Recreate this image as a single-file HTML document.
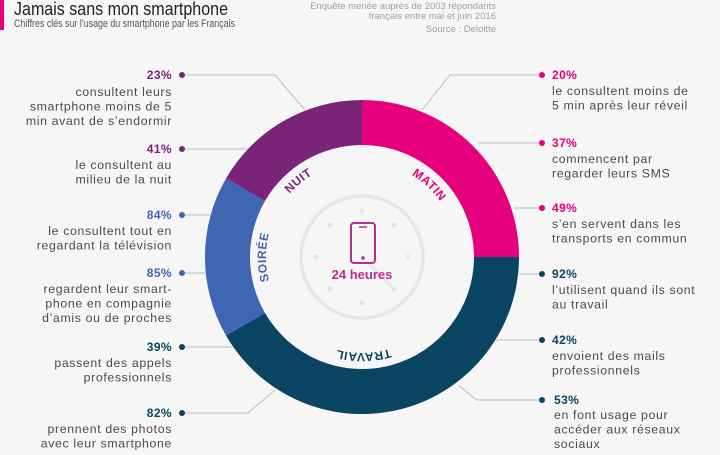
<!DOCTYPE html>
<html><head><meta charset="utf-8"><style>
html,body{margin:0;padding:0;background:#f6f6f6;}
svg{display:block;font-family:"Liberation Sans",sans-serif;}
.t{font-size:12.3px;fill:#4a4a4a;letter-spacing:0.65px;}
.p{font-size:12px;font-weight:bold;letter-spacing:0.4px;}
.ln{stroke:#b7c0ca;stroke-width:1;fill:none;}
</style></head><body>
<svg width="720" height="455" viewBox="0 0 720 455">
<rect width="720" height="455" fill="#f6f6f6"/>
<rect x="0" y="0" width="4" height="30" fill="#e6007e"/>
<text x="14" y="15" font-size="18" fill="#222" textLength="214" lengthAdjust="spacingAndGlyphs">Jamais sans mon smartphone</text>
<text x="14" y="27" font-size="11" fill="#555" textLength="221" lengthAdjust="spacingAndGlyphs">Chiffres clés sur l’usage du smartphone par les Français</text>
<g font-size="9.5" fill="#a0a0a0" text-anchor="end">
<text x="496" y="9">Enquête menée auprès de 2003 répondants</text>
<text x="496" y="19">français entre mai et juin 2016</text>
<text x="496" y="32">Source : Deloitte</text>
</g>
<g class="ln">
<polyline points="182,75 275,75 305,110"/>
<polyline points="182,149 255,149"/>
<polyline points="182,215 212,215"/>
<polyline points="182,273 206,273"/>
<polyline points="182,347 232,347"/>
<polyline points="182,413 248,413 275,390"/>
<polyline points="542,75 450,75 422,110"/>
<polyline points="542,143 478,143"/>
<polyline points="542,208 514,208"/>
<polyline points="542,274 519,274"/>
<polyline points="542,340 496,340"/>
<polyline points="542,400 477,400 458,385"/>
</g>
<g transform="translate(362,257)">
<path d="M0,-157 A157,157 0 0,1 157,0 L112,0 A112,112 0 0,0 0,-112Z" fill="#e6007e"/>
<path d="M157,0 A157,157 0 0,1 -136,78.5 L-97,56 A112,112 0 0,0 112,0Z" fill="#0a4463"/>
<path d="M-136,78.5 A157,157 0 0,1 -136,-78.5 L-97,-56 A112,112 0 0,0 -97,56Z" fill="#3f66b2"/>
<path d="M-136,-78.5 A157,157 0 0,1 0,-157 L0,-112 A112,112 0 0,0 -97,-56Z" fill="#792478"/>
<circle r="111" fill="#f6f6f6"/>
<circle r="61" fill="none" stroke="#e3e6ec" stroke-width="3.5"/>
<g fill="#e3e6ec">
<circle cx="0" cy="-46" r="2.6"/><circle cx="0" cy="46" r="2.6"/>
<circle cx="-46" cy="0" r="2.6"/><circle cx="46" cy="0" r="2.6"/>
<circle cx="32" cy="-32" r="2.6"/><circle cx="-32" cy="-32" r="2.6"/>
<circle cx="32" cy="32" r="2.6"/><circle cx="-32" cy="32" r="2.6"/>
</g>
<line x1="0" y1="0" x2="32" y2="32" stroke="#e3e6ec" stroke-width="3"/>
<line x1="0" y1="-30" x2="0" y2="0" stroke="#e3e6ec" stroke-width="3"/>
<rect x="-11" y="-34" width="24" height="40" rx="3" fill="#f6f6f6" stroke="#b43090" stroke-width="2"/>
<line x1="-3" y1="-30" x2="5" y2="-30" stroke="#b43090" stroke-width="1.5"/>
<circle cx="1" cy="1" r="1.8" fill="#b43090"/>
<text x="0" y="22" text-anchor="middle" font-size="13" font-weight="bold" fill="#c02a8a">24 heures</text>
</g>
<defs><path id="arc" d="M362,161 A96,96 0 1,1 361.99,161"/></defs>
<g font-size="12" font-weight="bold" letter-spacing="0.5">
<text fill="#e6007e" text-anchor="middle"><textPath href="#arc" startOffset="72">MATIN</textPath></text>
<text fill="#792478" text-anchor="middle"><textPath href="#arc" startOffset="536">NUIT</textPath></text>
<text fill="#3f66b2" text-anchor="middle"><textPath href="#arc" startOffset="452">SOIRÉE</textPath></text>
<text fill="#0a4463" text-anchor="middle"><textPath href="#arc" startOffset="300">TRAVAIL</textPath></text>
</g>
<g fill="#792478"><circle cx="182" cy="75" r="3"/><circle cx="182" cy="149" r="3"/></g>
<g fill="#3f66b2"><circle cx="182" cy="215" r="3"/><circle cx="182" cy="273" r="3"/></g>
<g fill="#0a4463"><circle cx="182" cy="347" r="3"/><circle cx="182" cy="413" r="3"/></g>
<g text-anchor="end">
<text x="172" y="79" class="p" fill="#792478">23%</text>
<text x="172" y="96" class="t">consultent leurs</text>
<text x="172" y="110.5" class="t">smartphone moins de 5</text>
<text x="172" y="125" class="t">min avant de s’endormir</text>
<text x="172" y="153" class="p" fill="#792478">41%</text>
<text x="172" y="169" class="t">le consultent au</text>
<text x="172" y="183.5" class="t">milieu de la nuit</text>
<text x="172" y="219" class="p" fill="#3f66b2">84%</text>
<text x="172" y="235" class="t">le consultent tout en</text>
<text x="172" y="249.5" class="t">regardant la télévision</text>
<text x="172" y="277" class="p" fill="#3f66b2">85%</text>
<text x="172" y="293" class="t">regardent leur smart-</text>
<text x="172" y="307.5" class="t">phone en compagnie</text>
<text x="172" y="322" class="t">d’amis ou de proches</text>
<text x="172" y="351" class="p" fill="#0a4463">39%</text>
<text x="172" y="367" class="t">passent des appels</text>
<text x="172" y="381.5" class="t">professionnels</text>
<text x="172" y="417" class="p" fill="#0a4463">82%</text>
<text x="172" y="433" class="t">prennent des photos</text>
<text x="172" y="447.5" class="t">avec leur smartphone</text>
</g>
<g fill="#e6007e"><circle cx="542" cy="75" r="3"/><circle cx="542" cy="143" r="3"/><circle cx="542" cy="208" r="3"/></g>
<g fill="#0a4463"><circle cx="542" cy="274" r="3"/><circle cx="542" cy="340" r="3"/><circle cx="542" cy="400" r="3"/></g>
<g>
<text x="552" y="79" class="p" fill="#e6007e">20%</text>
<text x="552" y="95" class="t">le consultent moins de</text>
<text x="552" y="109.5" class="t">5 min après leur réveil</text>
<text x="552" y="147" class="p" fill="#e6007e">37%</text>
<text x="552" y="163" class="t">commencent par</text>
<text x="552" y="177.5" class="t">regarder leurs SMS</text>
<text x="552" y="212" class="p" fill="#e6007e">49%</text>
<text x="552" y="228" class="t">s’en servent dans les</text>
<text x="552" y="242.5" class="t">transports en commun</text>
<text x="552" y="278" class="p" fill="#0a4463">92%</text>
<text x="552" y="294" class="t">l’utilisent quand ils sont</text>
<text x="552" y="308.5" class="t">au travail</text>
<text x="552" y="344" class="p" fill="#0a4463">42%</text>
<text x="552" y="360" class="t">envoient des mails</text>
<text x="552" y="374.5" class="t">professionnels</text>
<text x="554" y="404" class="p" fill="#0a4463">53%</text>
<text x="554" y="419" class="t">en font usage pour</text>
<text x="554" y="433.5" class="t">accéder aux réseaux</text>
<text x="554" y="448" class="t">sociaux</text>
</g>
</svg>
</body></html>
